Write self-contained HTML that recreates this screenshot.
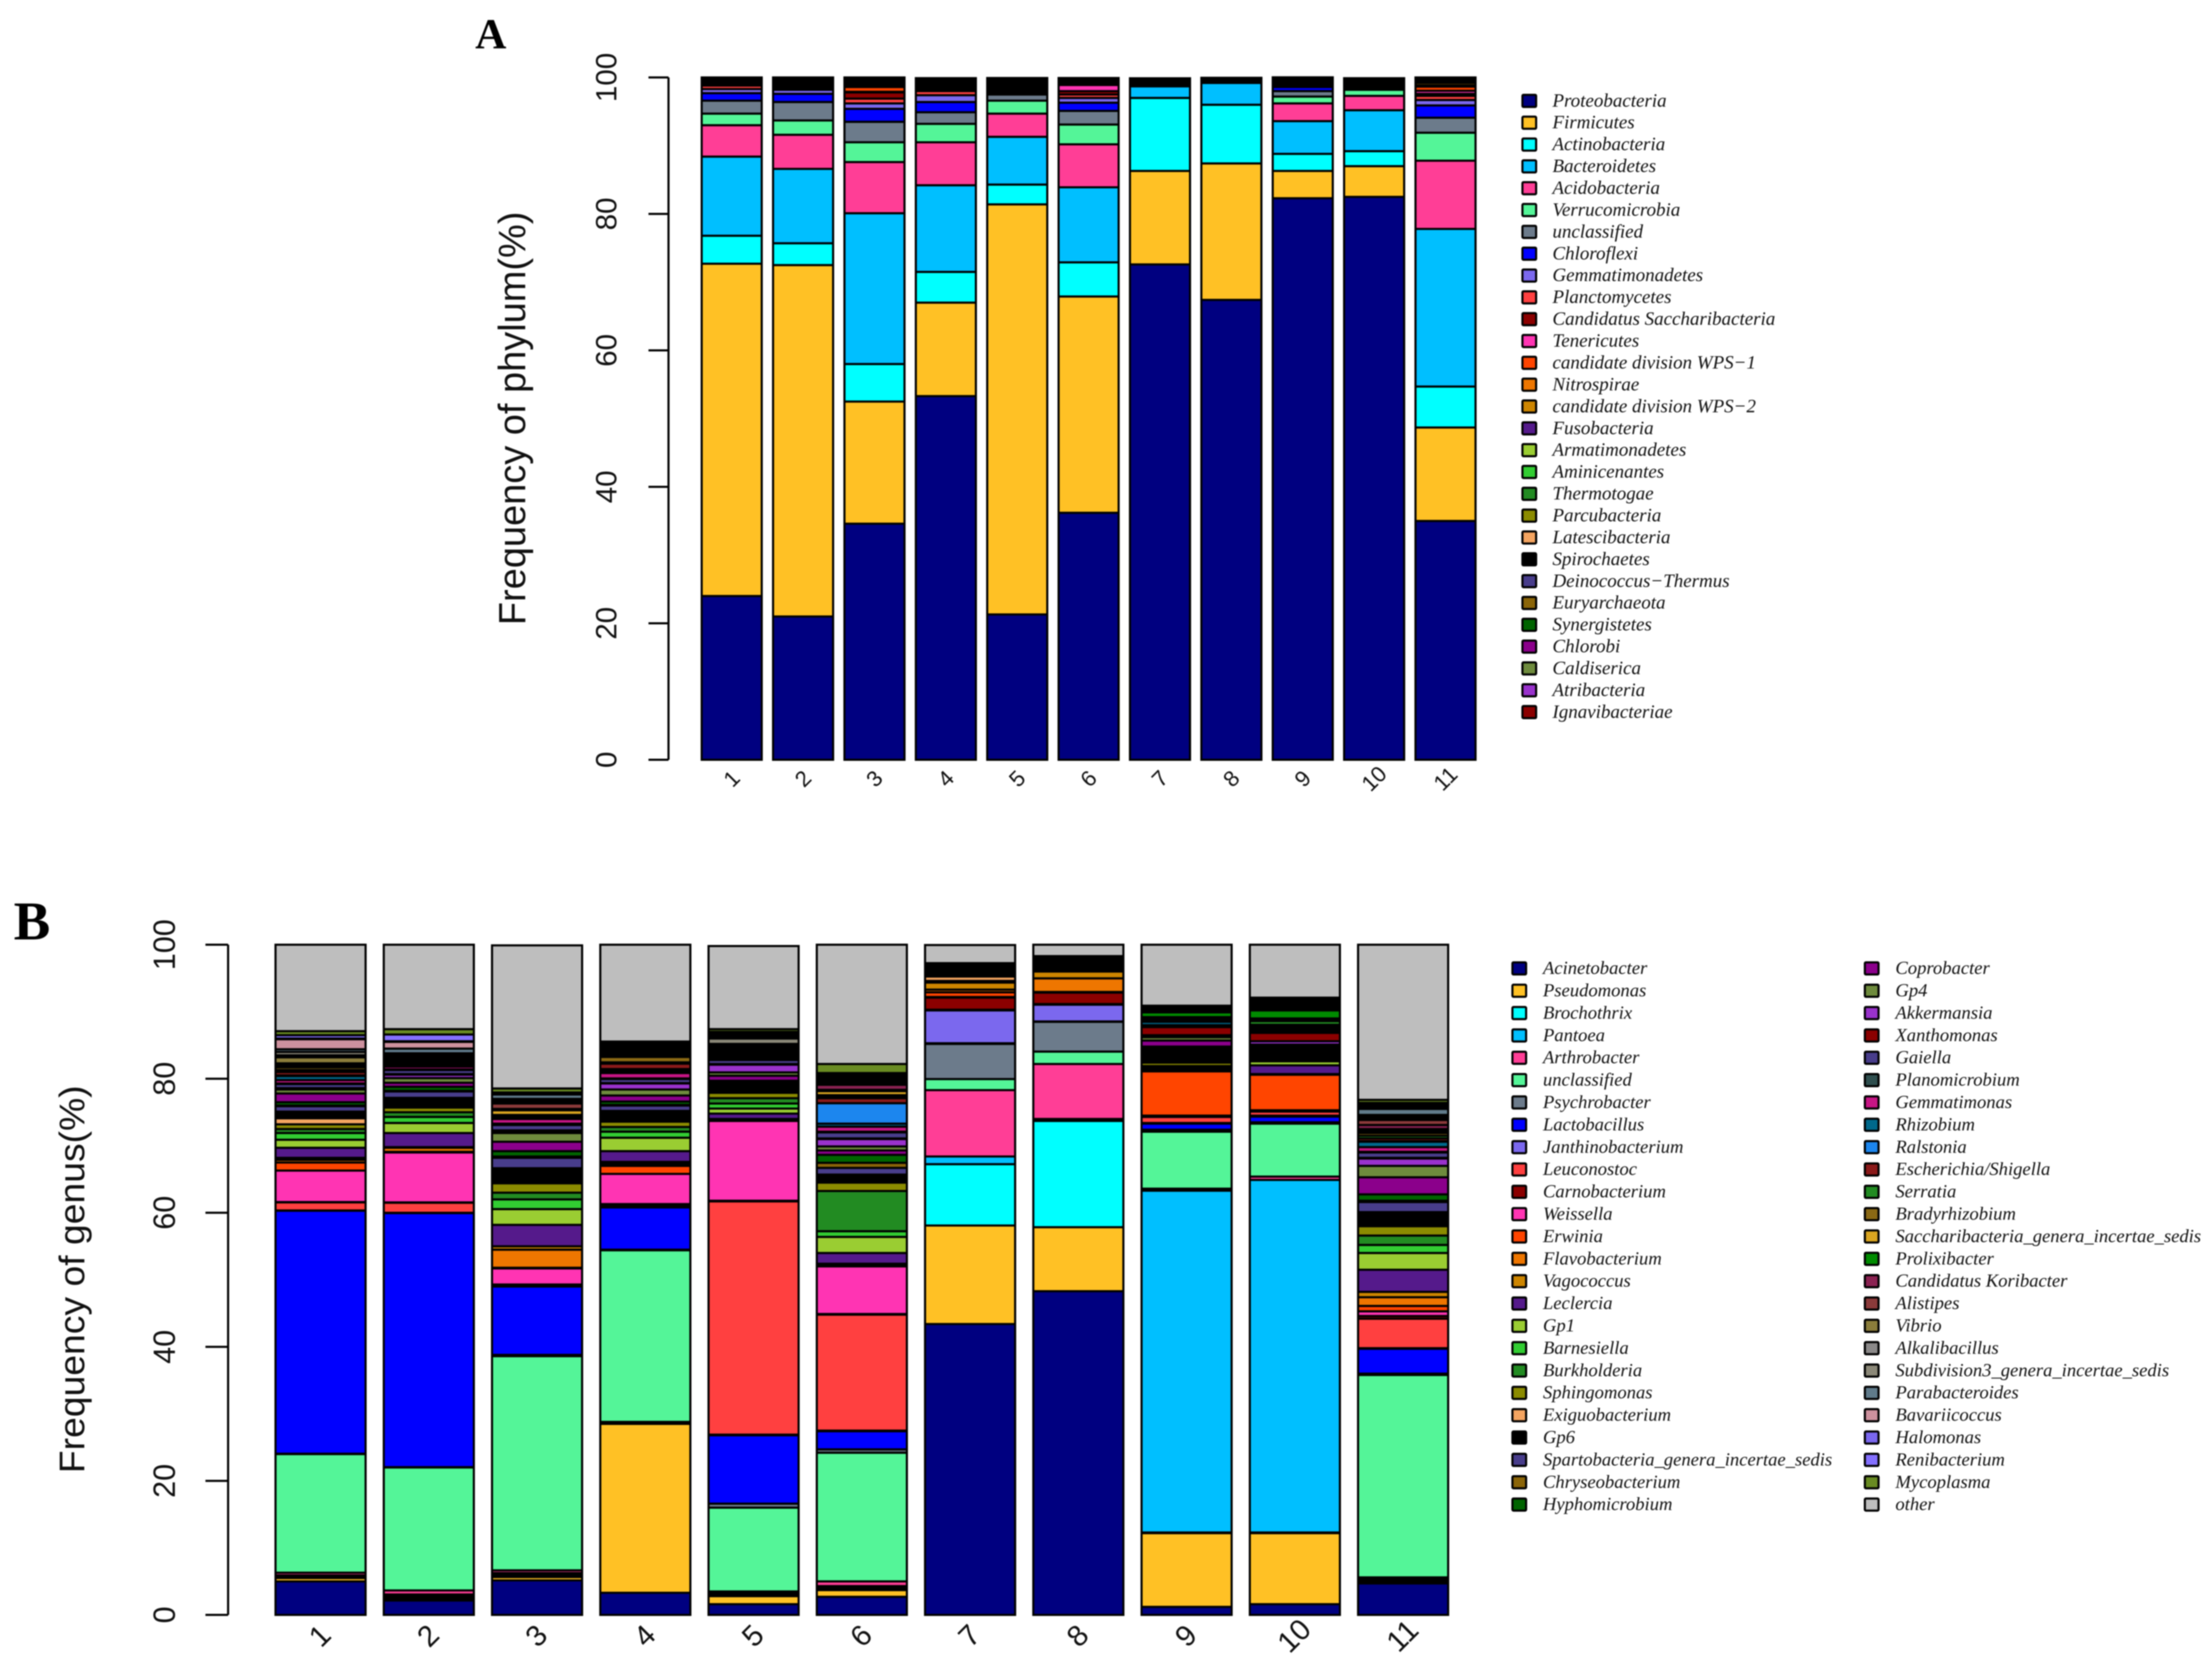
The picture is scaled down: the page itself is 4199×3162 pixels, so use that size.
<!DOCTYPE html>
<html lang="en">
<head>
<meta charset="utf-8">
<title>Frequency of phylum and genus</title>
<style>
html,body{margin:0;padding:0;background:#fff;width:4199px;height:3162px;overflow:hidden}
svg{display:block;filter:blur(1px)}
.ax{font-family:"Liberation Sans",sans-serif;fill:#111}
.lg{font-family:"Liberation Serif",serif;font-style:italic;fill:#111}
.pn{font-family:"Liberation Serif",serif;font-weight:bold;fill:#000}
</style>
</head>
<body>
<svg id="fig" xmlns="http://www.w3.org/2000/svg" width="4199" height="3162" viewBox="0 0 4199 3162">
<rect width="4199" height="3162" fill="#fff"/>
<text class="pn" x="902" y="92" font-size="82">A</text>
<text class="pn" x="26" y="1783" font-size="104">B</text>
<text class="ax" transform="translate(997,794) rotate(-90)" text-anchor="middle" font-size="72" textLength="785" lengthAdjust="spacingAndGlyphs">Frequency of phylum(%)</text>
<text class="ax" transform="translate(160,2428) rotate(-90)" text-anchor="middle" font-size="68" textLength="736" lengthAdjust="spacingAndGlyphs">Frequency of genus(%)</text>
<g id="chartA"></g>
<g id="chartB"></g>
</svg>
<script>
const sampleLabels = ["1","2","3","4","5","6","7","8","9","10","11"];
const yTickLabels = [0,20,40,60,80,100];

const phylumNames = ["Proteobacteria","Firmicutes","Actinobacteria","Bacteroidetes","Acidobacteria","Verrucomicrobia","unclassified","Chloroflexi","Gemmatimonadetes","Planctomycetes","Candidatus Saccharibacteria","Tenericutes","candidate division WPS\u22121","Nitrospirae","candidate division WPS\u22122","Fusobacteria","Armatimonadetes","Aminicenantes","Thermotogae","Parcubacteria","Latescibacteria","Spirochaetes","Deinococcus\u2212Thermus","Euryarchaeota","Synergistetes","Chlorobi","Caldiserica","Atribacteria","Ignavibacteriae"];
const phylumColors = ["#000080","#FFC125","#00FFFF","#00BFFF","#FF3E96","#54F598","#6C7B8B","#0000FF","#7B68EE","#FF4040","#8B0000","#FF34B3","#FF4500","#EE7600","#CD8500","#551A8B","#9ACD32","#32CD32","#228B22","#8B8B00","#F4A460","#000000","#483D8B","#8B6508","#006400","#8B008B","#6E8B3D","#9932CC","#8B0000"];
const phylumSample1 = [24,48.7,4.1,11.6,4.6,1.7,1.9,1.1,.6,.5,.3,.05,.05,.05,.05,.05,.05,.05,.05,.05,.05,.05,.05,.05,.05,.05,.05,.05,.05];
const phylumSample2 = [21,51.5,3.2,10.9,5,2.1,2.7,1.2,.6,.09,.09,.09,.09,.09,.09,.09,.09,.09,.09,.09,.09,.09,.09,.09,.09,.09,.09,.09,.09];
const phylumSample3 = [34.6,17.9,5.5,22.1,7.5,2.9,3,1.9,.8,.7,.9,.1,.7,.1,.1,.2,.1,.1,.1,.1,.1,.06,.06,.06,.06,.06,.06,.06,.08];
const phylumSample4 = [53.3,13.7,4.5,12.7,6.3,2.7,1.7,1.5,1,.6,.1,.1,.1,.1,.1,.1,.1,.1,.1,.1,.1,.1,.1,.1,.1,.1,.1,.1,.1];
const phylumSample5 = [21.3,60.1,2.9,7,3.4,1.9,.9,.11,.11,.11,.11,.11,.11,.11,.11,.11,.11,.11,.11,.11,.11,.11,.11,.11,.11,.11,.11,.11,.11];
const phylumSample6 = [36.2,31.7,5,11,6.3,2.9,2,1.2,.7,.5,.5,.9,.06,.06,.06,.06,.06,.06,.06,.06,.06,.06,.06,.06,.06,.06,.06,.06,.06];
const phylumSample7 = [72.6,13.7,10.7,1.7,.05,.05,.05,.05,.05,.05,.05,.2,.04,.04,.04,.04,.04,.04,.04,.04,.04,.04,.04,.04,.03,.03,.03,.03,.03];
const phylumSample8 = [67.4,20,8.6,3.2,.03,.03,.03,.03,.03,.03,.03,.03,.03,.03,.03,.03,.03,.03,.03,.03,.03,.03,.03,.03,.03,.03,.03,.03,.03];
const phylumSample9 = [82.3,4,2.5,4.8,2.6,1,.8,.6,.07,.07,.07,.07,.07,.07,.07,.07,.07,.07,.07,.07,.07,.07,.07,.07,.06,.06,.06,.06,.06];
const phylumSample10 = [82.5,4.5,2.2,6,2.1,.9,.3,.06,.06,.06,.06,.06,.06,.06,.06,.06,.06,.06,.06,.06,.06,.06,.07,.07,.07,.07,.07,.07,.07];
const phylumSample11 = [35,13.7,6,23.1,10,4.1,2.2,1.8,.8,.6,.3,.45,.6,.2,.35,.06,.06,.06,.06,.06,.06,.06,.06,.06,.06,.05,.05,.05,.05];

const genusNames = ["Acinetobacter","Pseudomonas","Brochothrix","Pantoea","Arthrobacter","unclassified","Psychrobacter","Lactobacillus","Janthinobacterium","Leuconostoc","Carnobacterium","Weissella","Erwinia","Flavobacterium","Vagococcus","Leclercia","Gp1","Barnesiella","Burkholderia","Sphingomonas","Exiguobacterium","Gp6","Spartobacteria_genera_incertae_sedis","Chryseobacterium","Hyphomicrobium","Coprobacter","Gp4","Akkermansia","Xanthomonas","Gaiella","Planomicrobium","Gemmatimonas","Rhizobium","Ralstonia","Escherichia/Shigella","Serratia","Bradyrhizobium","Saccharibacteria_genera_incertae_sedis","Prolixibacter","Candidatus Koribacter","Alistipes","Vibrio","Alkalibacillus","Subdivision3_genera_incertae_sedis","Parabacteroides","Bavariicoccus","Halomonas","Renibacterium","Mycoplasma","other"];
const genusColors = ["#000080","#FFC125","#00FFFF","#00BFFF","#FF3E96","#54F598","#6C7B8B","#0000FF","#7B68EE","#FF4040","#8B0000","#FF34B3","#FF4500","#EE7600","#CD8500","#551A8B","#9ACD32","#32CD32","#228B22","#8B8B00","#F4A460","#000000","#483D8B","#8B6508","#006400","#8B008B","#6E8B3D","#9932CC","#8B0000","#483D8B","#2F4F4F","#C71585","#00688B","#1C86EE","#8B1A1A","#228B22","#8B6914","#DAA520","#008B00","#8B2252","#8B3A3A","#8B7D3B","#8B8989","#8B8878","#607B8B","#CD919E","#7A67EE","#8470FF","#698B22","#BEBEBE"];
const genusSample1 = [5,.5,.2,.2,.4,17.7,.05,36.25,.05,1.2,.05,4.7,1.2,.4,.3,1.5,1.2,1,.6,.7,.9,1,.8,.1,.5,1.3,.6,.1,.1,.6,.1,.5,.6,.1,.5,.3,.4,.2,.1,.1,.2,.9,.3,.5,.4,1.5,.1,.5,.6,12.9];
const genusSample2 = [2.15,.3,.3,.3,.6,18.35,.05,37.9,.05,1.5,.05,7.45,.1,.6,.1,2.1,1.5,.9,.7,.7,.05,1.4,.95,.1,.6,.6,.7,.5,.1,.6,.1,.4,.1,.1,.1,.1,.2,.2,.2,.2,.2,.2,.2,.2,.7,1,.1,1,.8,12.6];
const genusSample3 = [5.15,.5,.3,.3,.4,31.95,.2,10.2,.1,.1,.1,2.4,.1,2.7,.5,3.2,2.35,1.45,1,1.4,.1,2.15,1.55,.2,.8,1.4,1.3,.2,.2,.8,.2,.7,.1,.1,.1,.1,.2,.7,.1,.1,.8,.2,.2,.3,.65,.1,.1,.1,.6,21.35];
const genusSample4 = [3.3,25.2,.1,.1,.1,25.6,.1,6.3,.1,.2,.2,4.5,1.2,.3,.3,1.6,2,.9,.7,.8,.1,1.5,.8,.1,.5,.9,.9,.9,.05,.6,.1,.8,.3,.3,.8,.2,.8,.3,.3,.3,.3,.3,.2,.2,.2,.05,.05,.05,.05,14.45];
const genusSample5 = [1.6,1.2,.2,.2,.3,12.5,.6,10.2,.1,34.8,.1,11.9,.1,.1,.1,.8,.75,.75,.8,.8,.1,1.2,.2,.1,.2,.75,.5,1.15,.1,.6,.2,.1,.2,.1,.3,.2,.2,.1,.2,.2,.2,.1,.3,.8,.2,.2,.3,.3,.4,12.4];
const genusSample6 = [2.7,1,.3,.3,.7,19.2,.5,2.7,.1,17.3,.1,7.1,.2,.1,.1,1.6,2.4,.85,6,1.25,.1,1.1,1,.75,1.2,.65,.6,1.1,.1,.9,.1,.75,.45,3.05,.75,.2,.25,.6,.2,.75,.3,.3,.3,.2,.2,.1,.1,.25,1.35,17.8];
const genusSample7 = [43.4,14.7,9.15,1.15,9.9,1.65,5.25,.1,4.9,.1,1.8,.1,.7,.4,1.05,.05,.05,.05,.05,.05,.65,2,0,0,0,0,0,0,0,0,0,0,0,0,0,0,0,0,0,0,0,0,0,0,0,0,0,0,0,2.7];
const genusSample8 = [48.3,9.55,15.85,.3,8.2,1.85,4.45,.05,2.5,.1,1.7,.05,.05,2.03,1.02,.05,.05,.05,.05,.05,.05,2,0,0,0,0,0,0,0,0,0,0,0,0,0,0,0,0,0,0,0,0,0,0,0,0,0,0,0,1.7];
const genusSample9 = [1.2,11,.1,51,.3,8.5,.3,.9,.1,.9,.1,.1,6.6,.1,.1,.1,.1,.1,.3,.5,.1,1.9,.1,.1,.2,.9,.5,.3,1.2,.1,.1,.1,.5,.2,.2,.1,.1,.1,.7,.1,.1,.1,.1,.1,.1,.1,.1,.1,.1,9.1];
const genusSample10 = [1.6,10.6,.1,52.6,.5,7.9,.2,.85,.15,.6,.1,.1,5.3,.05,.05,1.3,.6,.1,.1,.1,.1,1.5,.1,.1,.1,.1,.2,.5,1.25,.2,.2,.2,.2,.2,.2,.55,.2,.2,1.2,.3,.3,.3,.3,.1,.1,.1,.1,.1,.2,7.9];
const genusSample11 = [4.7,.3,.2,.2,.2,30.2,.2,3.7,.1,4.4,.4,.7,.8,1.3,.8,3.3,2.5,1.2,1.4,1.4,.1,2,1.5,.2,.95,2.55,1.7,1.1,.1,.8,.1,.7,.8,.1,.4,.4,.4,.3,.3,.6,.75,.3,.2,.25,.9,.3,.3,.3,.45,23.15];

const phylumSamples = [phylumSample1,phylumSample2,phylumSample3,phylumSample4,phylumSample5,phylumSample6,phylumSample7,phylumSample8,phylumSample9,phylumSample10,phylumSample11];
const genusSamples = [genusSample1,genusSample2,genusSample3,genusSample4,genusSample5,genusSample6,genusSample7,genusSample8,genusSample9,genusSample10,genusSample11];

const NS = 'http://www.w3.org/2000/svg';
function mk(parent, tag, attrs, text){
  const e = document.createElementNS(NS, tag);
  for(const k in attrs) e.setAttribute(k, attrs[k]);
  if(text !== undefined) e.textContent = text;
  parent.appendChild(e);
  return e;
}
function slug(s){ return String(s).toLowerCase().replace(/[^a-z0-9]+/g,'-'); }

function drawChart(root, cfg){
  const yS = v => cfg.y0 - v * cfg.yUnit;
  const xS = i => cfg.x0 + i * cfg.pitch;
  // y axis
  const axis = mk(root,'line',{x1:cfg.axisX,x2:cfg.axisX,y1:yS(0),y2:yS(100),stroke:'#000','stroke-width':4});
  
  
  yTickLabels.forEach(t => {
    const tick = mk(root,'line',{x1:cfg.axisX-cfg.tickLen,x2:cfg.axisX,y1:yS(t),y2:yS(t),stroke:'#000','stroke-width':4});
    
    
    const lab = mk(root,'text',{class:'ax','text-anchor':'middle','font-size':cfg.tickFont,transform:'translate('+cfg.yLabX+','+yS(t)+') rotate(-90)'},String(t));
    
    
  });
  // stacked bars
  cfg.samples.forEach((vals, i) => {
    const x = xS(i);
    let cum = 0;
    vals.forEach((v, s) => {
      const r = mk(root,'rect',{x:x,width:cfg.barW,y:yS(cum+v),height:v*cfg.yUnit,fill:cfg.colors[s],stroke:'#000','stroke-width':cfg.stroke});
      
      
      cum += v;
    });
    const lab = mk(root,'text',{class:'ax','text-anchor':'middle','font-size':cfg.xFont,transform:'translate('+(x+cfg.barW/2+cfg.xLabDx)+','+cfg.xLabY+') rotate(-45)'},sampleLabels[i]);
    
    
  });
  // legend
  cfg.names.forEach((n, s) => {
    const col = Math.floor(s / cfg.legendRows);
    const row = s % cfg.legendRows;
    const cy = cfg.legY + row * cfg.legStep;
    const g = mk(root,'g',{});
    
    
    const sw = mk(g,'rect',{x:cfg.legX[col],y:cy-cfg.swH/2,width:cfg.swW,height:cfg.swH,rx:2,fill:cfg.colors[s],stroke:'#000','stroke-width':4});
    
    
    const t = mk(g,'text',{class:'lg',x:cfg.legTextX[col],y:cy+cfg.legFont*0.3,'font-size':cfg.legFont},n);
    
    
  });
}

drawChart(document.getElementById('chartA'),{
  prefix:'phylum',samples:phylumSamples,names:phylumNames,colors:phylumColors,
  y0:1442,yUnit:12.95,x0:1332,pitch:135.5,barW:114,stroke:4,
  axisX:1269,tickLen:38,yLabX:1170,tickFont:56,xFont:42,xLabY:1488,xLabDx:10,
  legendRows:29,legX:[2890],legTextX:[2947],legY:191.5,legStep:41.43,swW:26,swH:23,legFont:36
});
drawChart(document.getElementById('chartB'),{
  prefix:'genus',samples:genusSamples,names:genusNames,colors:genusColors,
  y0:3065,yUnit:12.72,x0:523,pitch:205.5,barW:171,stroke:4,
  axisX:433,tickLen:43,yLabX:332,tickFont:58,xFont:56,xLabY:3118,xLabDx:12,
  legendRows:25,legX:[2871,3540],legTextX:[2929,3598],legY:1838,legStep:42.4,swW:26,swH:23,legFont:35.3
});
</script>
</body>
</html>
